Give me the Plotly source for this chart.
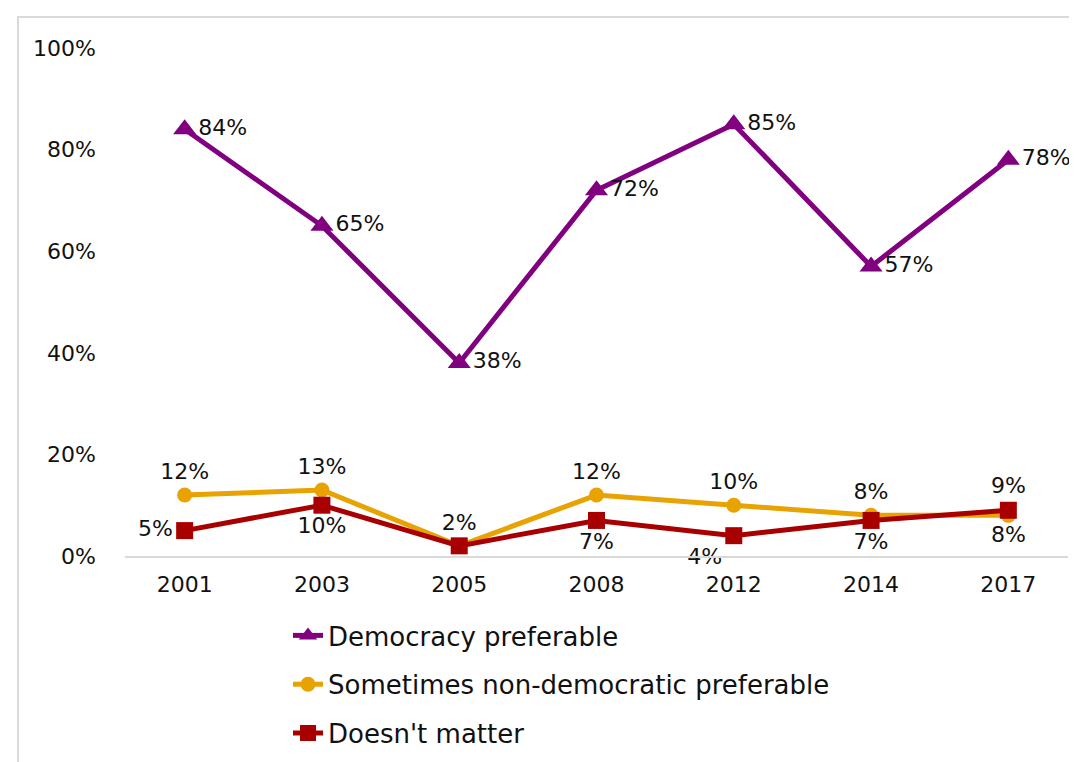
import plotly.graph_objects as go

years = ["2001", "2003", "2005", "2008", "2012", "2014", "2017"]
democracy = [84, 65, 38, 72, 85, 57, 78]
non_democratic = [12, 13, 2, 12, 10, 8, 8]
doesnt_matter = [5, 10, 2, 7, 4, 7, 9]

y_ticks = [0, 20, 40, 60, 80, 100]

PURPLE = "#800080"
ORANGE = "#E8A202"
RED = "#A80000"
FONT = "DejaVu Sans"

W, H = 1077, 762
L, R, T, B = 117, 17, 40, 214


def labels(values, skip=()):
    return ["" if i in skip else f"{v}%" for i, v in enumerate(values)]


fig = go.Figure()
fig.add_trace(go.Scatter(
    x=years, y=democracy, name="Democracy preferable", legendgroup="a",
    mode="lines+markers+text", text=labels(democracy), textposition="middle right",
    line={"color": PURPLE, "width": 5}, marker={"symbol": "triangle-up", "size": 20, "color": PURPLE},
))
fig.add_trace(go.Scatter(
    x=years, y=non_democratic, name="Sometimes non-democratic preferable", legendgroup="b",
    mode="lines+markers+text", text=labels(non_democratic),
    textposition=["top center"] * 6 + ["bottom center"],
    line={"color": ORANGE, "width": 5}, marker={"symbol": "circle", "size": 15, "color": ORANGE},
))
fig.add_trace(go.Scatter(
    x=years, y=doesnt_matter, name="Doesn't matter", legendgroup="c",
    mode="lines+markers+text", text=labels(doesnt_matter, skip=(2,)),
    textposition=["middle left", "bottom center", "bottom center", "bottom center",
                  "bottom left", "bottom center", "top center"],
    line={"color": RED, "width": 5}, marker={"symbol": "square", "size": 17, "color": RED},
))
fig.update_traces(textfont={"family": FONT, "size": 22, "color": "#111111"}, cliponaxis=False)

# thin grey frame around the chart area
pw, ph = W - L - R, H - T - B
fig.add_shape(
    type="rect", xref="paper", yref="paper",
    x0=(10 - L) / pw, x1=(W + 20 - L) / pw,
    y0=(H - (H + 20) - B) / ph, y1=(H - 9 - B) / ph,
    line={"color": "#d9d9d9", "width": 2}, fillcolor="rgba(0,0,0,0)", layer="below",
)

fig.update_layout(
    width=W, height=H,
    margin={"l": L, "r": R, "t": T, "b": B, "autoexpand": False},
    paper_bgcolor="white", plot_bgcolor="white",
    font={"family": FONT, "size": 22, "color": "#111111"},
    showlegend=True,
    legend={
        "orientation": "v",
        "x": (280 - L) / pw, "xanchor": "left", "y": -(604 - (H - B)) / ph, "yanchor": "top",
        "font": {"family": FONT, "size": 26, "color": "#111111"},
        "tracegroupgap": 12, "bgcolor": "rgba(0,0,0,0)",
    },
)
fig.update_xaxes(
    type="category", showgrid=False, showline=True, linecolor="#d9d9d9", linewidth=2,
    ticks="", ticklabelstandoff=8, tickangle=0, tickfont={"size": 22},
)
fig.update_yaxes(
    range=[0, 100], tickvals=y_ticks, ticktext=[f"{v}%" for v in y_ticks],
    showgrid=False, zeroline=False, showline=False, ticks="",
    ticklabelstandoff=28, tickfont={"size": 22},
)

fig.write_html("out.html")
